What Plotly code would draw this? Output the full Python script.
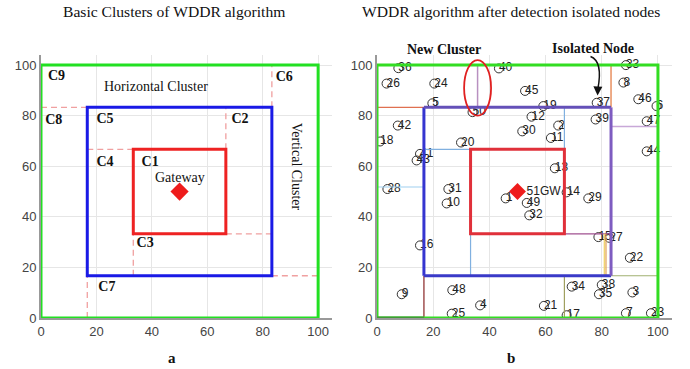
import plotly.graph_objects as go

# ---------------- data ----------------
bounds = [0, 16.7, 33.3, 66.7, 83.3, 100]   # cluster boundaries
gateway = [50, 50]

# panel a labels
a_label_text = ["C9", "C6", "C8", "C5", "C2", "C4", "C1", "C3", "C7"]
a_label_x = [2.5, 84.7, 1.5, 20.0, 68.7, 20.0, 36.3, 34.5, 20.7]
a_label_y = [95.4, 95.0, 78.0, 78.6, 78.6, 61.5, 61.3, 29.4, 12.1]

# panel b nodes
node_ids = list(range(1, 51))
node_x = [45.8, 64.5, 90.9, 36.7, 19.7, 99.5, 88.6, 87.7, 8.8, 24.8,
          61.9, 55.0, 63.3, 67.5, 78.8, 15.3, 67.5, 1.1, 59.2, 29.9,
          59.4, 90.0, 97.5, 20.4, 26.6, 3.4, 82.7, 3.7, 75.2, 51.7,
          25.4, 54.2, 88.6, 69.3, 79.0, 7.6, 78.2, 80.0, 77.8, 43.4,
          15.3, 7.4, 14.1, 96.0, 52.7, 93.0, 96.0, 26.8, 53.3, 34.0]
node_y = [47.3, 76.1, 10.1, 5.0, 84.9, 83.8, 1.9, 93.1, 9.4, 45.3,
          71.2, 79.6, 59.2, 49.7, 32.0, 28.7, 1.1, 69.8, 83.8, 69.4,
          4.8, 23.8, 1.9, 92.7, 1.7, 92.7, 31.7, 51.0, 47.3, 73.8,
          51.0, 40.6, 100.0, 12.4, 9.4, 98.8, 85.1, 13.1, 78.5, 98.7,
          64.9, 76.1, 62.3, 65.9, 89.8, 86.5, 77.8, 11.0, 45.5, 81.4]
new_cluster_x = 35.8
isolated_row_y = 75.7
edge_row_y = 51.8
split_x = [80.9, 81.5]

b0, b1, b2, b3, b4, b5 = bounds

fig = go.Figure()

def line(x0, y0, x1, y1, color, width, xr, yr, dash=None):
    d = dict(type="line", x0=x0, y0=y0, x1=x1, y1=y1, xref=xr, yref=yr,
             line=dict(color=color, width=width))
    if dash:
        d["line"]["dash"] = dash
    fig.add_shape(**d)

def rect(x0, y0, x1, y1, color, width, xr, yr):
    fig.add_shape(type="rect", x0=x0, y0=y0, x1=x1, y1=y1, xref=xr, yref=yr,
                  line=dict(color=color, width=width), fillcolor="rgba(0,0,0,0)")

# ---------------- panel a ----------------
pink = "#f0a0a0"
for (x0, y0, x1, y1) in [(b0, b4, b1, b4), (b4, b4, b4, b5), (b3, b3, b3, b4),
                         (b1, b3, b2, b3), (b3, b2, b4, b2), (b2, b1, b2, b2),
                         (b4, b1, b5, b1), (b1, b0, b1, b1)]:
    line(x0, y0, x1, y1, pink, 1.3, "x", "y", dash="6px,4px")
rect(b0, b0, b5, b5, "#22e022", 3, "x", "y")
rect(b1, b1, b4, b4, "#1a1ae6", 3, "x", "y")
rect(b2, b2, b3, b3, "#ee2222", 3, "x", "y")

fig.add_trace(go.Scatter(x=[gateway[0]], y=[gateway[1]], mode="markers",
                         marker=dict(symbol="diamond", size=14, color="#ee1c1c"),
                         xaxis="x", yaxis="y", showlegend=False, hoverinfo="skip"))
fig.add_trace(go.Scatter(x=a_label_x, y=a_label_y, mode="text", text=a_label_text,
                         textposition="middle right",
                         marker=dict(size=1),
                         textfont=dict(family="Liberation Serif", size=14, color="#111"),
                         texttemplate="<b>%{text}</b>",
                         xaxis="x", yaxis="y", showlegend=False, hoverinfo="skip"))

serif = "Liberation Serif"
fig.add_annotation(x=41.4, y=91.5, xref="x", yref="y", text="Horizontal Cluster",
                   showarrow=False, font=dict(family=serif, size=14, color="#111"))
fig.add_annotation(x=50.1, y=55.6, xref="x", yref="y", text="Gateway",
                   showarrow=False, font=dict(family=serif, size=14, color="#111"))
fig.add_annotation(x=92.2, y=60, xref="x", yref="y", text="Vertical Cluster",
                   textangle=90, showarrow=False,
                   font=dict(family=serif, size=14, color="#111"))

# ---------------- panel b ----------------
# thin cluster lines
line(b0, b4, b1, b4, "#e07050", 1.2, "x2", "y2")
line(b4, b4, b4, b5, "#e89060", 1.5, "x2", "y2")
line(new_cluster_x, b4, new_cluster_x, b5, "#b890c0", 1.5, "x2", "y2")
line(b1, b3, b2, b3, "#80b0e0", 1.2, "x2", "y2")
line(b3, b3, b3, b4, "#80b0e0", 1.2, "x2", "y2")
line(b4, isolated_row_y, b5, isolated_row_y, "#c8a8d8", 1.5, "x2", "y2")
line(b0, edge_row_y, b1, edge_row_y, "#a0d0f0", 1.2, "x2", "y2")
line(b2, b1, b2, b2, "#80b0e0", 1.2, "x2", "y2")
line(b3, b2, b4, b2, "#a05090", 1.2, "x2", "y2")
line(split_x[0], b1, split_x[0], b2, "#f0d060", 1.2, "x2", "y2")
line(split_x[1], b1, split_x[1], b2, "#e0a050", 1.2, "x2", "y2")
line(b3, b0, b3, b1, "#a0a060", 1.2, "x2", "y2")
line(b4, b1, b5, b1, "#a0b070", 1.2, "x2", "y2")
line(b1, b0, b1, b1, "#a05050", 1.5, "x2", "y2")

rect(b0, b0, b5, b5, "#33dd22", 3, "x2", "y2")
line(b0, b0, b1, b0, "#3f9a35", 3, "x2", "y2")
# blue cluster ring (left/bottom blue, top/right purple)
line(b1, b1, b1, b4, "#3535d0", 3, "x2", "y2")
line(b1, b1, b4, b1, "#3a3ac8", 3, "x2", "y2")
line(b1, b4, b4, b4, "#6450b8", 3, "x2", "y2")
line(b4, b1, b4, b4, "#7e5cc0", 3, "x2", "y2")
rect(b2, b2, b3, b3, "#e0303a", 3, "x2", "y2")

# new cluster ellipse
fig.add_shape(type="circle", x0=31.0, y0=80.0, x1=40.6, y1=102.0, xref="x2", yref="y2",
              line=dict(color="#e02020", width=1.8))

# nodes
fig.add_trace(go.Scatter(x=node_x, y=node_y, mode="markers",
                         marker=dict(symbol="circle-open", size=9,
                                     line=dict(color="#333", width=1), color="#333"),
                         xaxis="x2", yaxis="y2", showlegend=False, hoverinfo="skip"))
fig.add_trace(go.Scatter(x=node_x, y=node_y, mode="text", text=[str(i) for i in node_ids],
                         textposition="middle right", marker=dict(size=1),
                         textfont=dict(family="Liberation Sans", size=12, color="#222"),
                         xaxis="x2", yaxis="y2", showlegend=False, hoverinfo="skip"))
fig.add_trace(go.Scatter(x=[gateway[0]], y=[gateway[1]], mode="markers+text",
                         text=["51GW"], textposition="middle right",
                         marker=dict(symbol="diamond", size=13, color="#ee1c1c"),
                         textfont=dict(family="Liberation Sans", size=12, color="#222"),
                         xaxis="x2", yaxis="y2", showlegend=False, hoverinfo="skip"))

fig.add_annotation(x=23.7, y=1 - 50/369, xref="x2", yref="paper", text="<b>New Cluster</b>",
                   showarrow=False, xanchor="center", yanchor="middle",
                   font=dict(family=serif, size=14, color="#111"))
fig.add_annotation(x=77.0, y=1 - 49/369, xref="x2", yref="paper", text="<b>Isolated Node</b>",
                   showarrow=False, xanchor="center", yanchor="middle",
                   font=dict(family=serif, size=14, color="#111"))
fig.add_shape(type="path", path="M 76.0,103.4 Q 80.5,101.5 78.6,90.5",
              xref="x2", yref="y2", line=dict(color="#111", width=1.5))
fig.add_annotation(x=78.5, y=88.0, ax=78.6, ay=91.0, xref="x2", yref="y2",
                   axref="x2", ayref="y2", text="", showarrow=True,
                   arrowhead=2, arrowsize=1.2, arrowwidth=1.5, arrowcolor="#111")

# titles and panel letters
for tx, ty, tt, fs in [(174, 12, "Basic Clusters of WDDR algorithm", 15.6),
                       (511, 12, "WDDR algorithm after detection isolated nodes", 15.6),
                       (172, 358, "<b>a</b>", 15), (511, 358, "<b>b</b>", 15)]:
    fig.add_annotation(x=tx/690, y=1 - ty/369, xref="paper", yref="paper",
                       text=tt, showarrow=False, xanchor="center", yanchor="middle",
                       font=dict(family=serif, size=fs, color="#111"))

ax_common = dict(range=[0, 105], tickvals=[0, 20, 40, 60, 80, 100],
                 showgrid=True, gridcolor="#e6e6e6", gridwidth=1, zeroline=False,
                 showline=True, linecolor="#999", linewidth=2, automargin=False,
                 tickfont=dict(family="Liberation Sans", size=13, color="#444"),
                 ticks="", fixedrange=True)
ay_common = dict(range=[0, 104], tickvals=[0, 20, 40, 60, 80, 100],
                 showgrid=True, gridcolor="#e6e6e6", gridwidth=1, zeroline=False,
                 showline=True, linecolor="#999", linewidth=2, automargin=False,
                 tickfont=dict(family="Liberation Sans", size=13, color="#444"),
                 ticks="", fixedrange=True)
ydom = [1 - 318/369, 1 - 55/369]
fig.update_layout(
    width=690, height=369,
    margin=dict(l=0, r=0, t=0, b=0, autoexpand=False),
    paper_bgcolor="white", plot_bgcolor="white",
    xaxis=dict(domain=[41/690, 332/690], anchor="y", **ax_common),
    yaxis=dict(domain=ydom, anchor="x", **ay_common),
    xaxis2=dict(domain=[377/690, 672/690], anchor="y2", **ax_common),
    yaxis2=dict(domain=ydom, anchor="x2", **ay_common),
    showlegend=False,
)

fig.write_html("out.html", config={"displayModeBar": False},
               post_script="document.body.style.margin='0';document.body.style.overflow='hidden';")
